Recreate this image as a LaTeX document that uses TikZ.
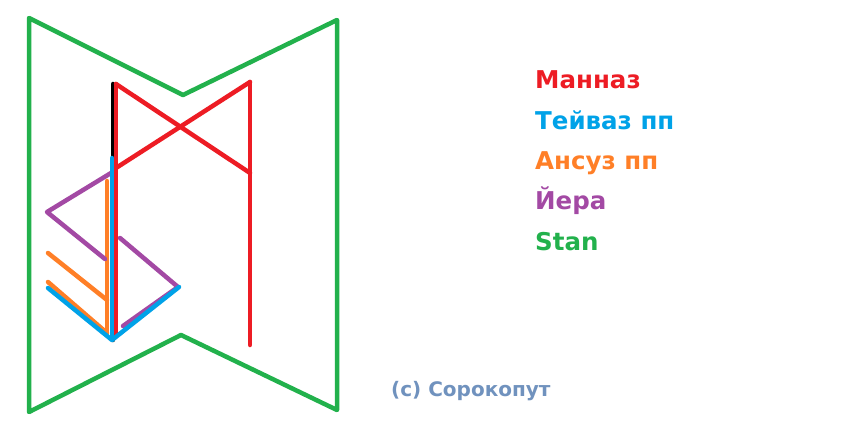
\documentclass[tikz,border=0pt]{standalone}
\usepackage{fontspec}
\setmainfont{DejaVu Sans}
\definecolor{runered}{HTML}{ED1C24}
\definecolor{runeblue}{HTML}{00A2E8}
\definecolor{runeorange}{HTML}{FF7F27}
\definecolor{runepurple}{HTML}{A349A4}
\definecolor{runegreen}{HTML}{22B14C}
\definecolor{signgrey}{HTML}{7092BE}
\begin{document}
\begin{tikzpicture}[x=1pt,y=-1pt,line cap=round,line join=round]
	\tikzstyle{stroke}=[line width=4.5pt]
	\tikzstyle{legend}=[anchor=base west,inner sep=0pt,font=\fontsize{24.5}{26}\selectfont\bfseries]
	%\tikzstyle{legend}=[anchor=west,inner sep=0pt,font=\Large\bfseries]
	\useasboundingbox[fill=white] (0,0) rectangle (863,433);
	% stan
	\draw[stroke,runegreen] (29,18) -- (183,95) -- (337,20) -- (337,410) -- (181,335) -- (29,412) -- cycle;
	% mannaz
	\draw[stroke,black] (113,84) -- (113,340);
	\draw[stroke,runered] (116,84) -- (116,335);
	\draw[stroke,runered] (250,82) -- (250,345);
	\draw[stroke,runered] (116,84) -- (250,173);
	\draw[stroke,runered] (250,82) -- (116,168);
	% ansuz
	\draw[stroke,runeorange] (107,181) -- (107,333);
	\draw[stroke,runeorange] (107,300) -- (48,253);
	\draw[stroke,runeorange] (107,333) -- (48,282);
	% jera
	\draw[stroke,runepurple] (111,173) -- (47,212) -- (105,259);
	\draw[stroke,runepurple] (120,238) -- (178,287) -- (123,326);
	% tiwaz
	\draw[stroke,runeblue] (112,158) -- (112,340);
	\draw[stroke,runeblue] (48,288) -- (112,340) -- (179,287);
	% legend
	\node[legend,text=runered] (l-mannaz) at (535,89) {Манназ};
	\node[legend,text=runeblue] (l-tiwaz) at (535,130) {Тейваз пп};
	\node[legend,text=runeorange] (l-ansuz) at (535,170) {Ансуз пп};
	\node[legend,text=runepurple] (l-jera) at (535,210) {Йера};
	\node[legend,text=runegreen] (l-stan) at (535,251) {Stan};
	\node[legend,text=signgrey,font=\fontsize{20}{22}\selectfont\bfseries] (sign) at (391,396) {(c) Сорокопут};
\end{tikzpicture}
\end{document}
